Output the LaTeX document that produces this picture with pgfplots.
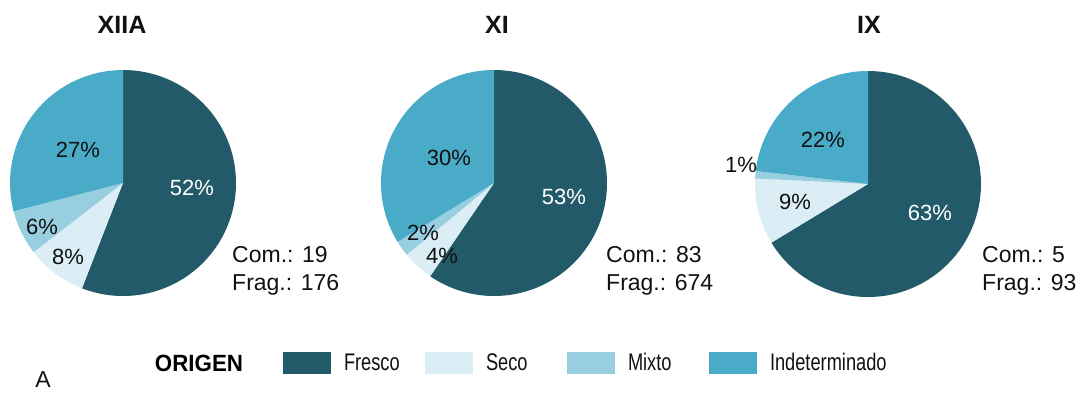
\documentclass[border=0pt]{standalone}
\usepackage{pgfplots}
\pgfplotsset{compat=1.18}
\usepackage{fontspec}
\setmainfont{Liberation Sans}
\newfontfamily\narrowfont[FakeStretch=0.76]{Liberation Sans}
\newfontfamily\origenfont[FakeStretch=0.95]{Liberation Sans}
\definecolor{cFresco}{HTML}{235A69}
\definecolor{cSeco}{HTML}{DCEEF5}
\definecolor{cMixto}{HTML}{97CEE0}
\definecolor{cIndet}{HTML}{49ABC7}
\definecolor{cText}{HTML}{111111}
\def\R{113pt}
% \pie{cx}{cy}{Fresco}{Seco}{Mixto}{Indeterminado}
\newcommand\pie[6]{%
  \pgfmathsetmacro\tot{#3+#4+#5+#6}%
  \pgfmathsetmacro\aB{90-360*(#3/\tot)}%
  \pgfmathsetmacro\aC{\aB-360*(#4/\tot)}%
  \pgfmathsetmacro\aD{\aC-360*(#5/\tot)}%
  \edef\doslices{%
    \noexpand\fill[cFresco] (axis cs:#1,#2) -- ++(90:\R) arc[start angle=90,end angle=\aB,radius=\R] -- cycle;
    \noexpand\fill[cSeco] (axis cs:#1,#2) -- ++(\aB:\R) arc[start angle=\aB,end angle=\aC,radius=\R] -- cycle;
    \noexpand\fill[cMixto] (axis cs:#1,#2) -- ++(\aC:\R) arc[start angle=\aC,end angle=\aD,radius=\R] -- cycle;
    \noexpand\fill[cIndet] (axis cs:#1,#2) -- ++(\aD:\R) arc[start angle=\aD,end angle=-270,radius=\R] -- cycle;
  }\doslices}
\newcommand\pct{\fontsize{22}{26}\selectfont}
\begin{document}
\begin{tikzpicture}
\begin{axis}[
  width=1081pt,height=392pt,scale only axis,
  xmin=0,xmax=1081,ymin=0,ymax=392,
  hide axis,clip=false,
  legend style={at={(axis cs:283,29)},anchor=west,draw=none,fill=none,
    legend columns=4,inner sep=0pt,outer sep=0pt,
    nodes={inner xsep=0pt,inner ysep=0pt,text width=81pt,align=left,
      font=\narrowfont\fontsize{24}{28}\selectfont,text=cText},
    /tikz/every odd column/.append style={column sep=13pt}},
  legend image code/.code={\fill[#1,draw=none] (0pt,-11pt) rectangle (48pt,11pt);},
]
\path (axis cs:0,0) rectangle (axis cs:1081,392);
\pie{123}{209}{52}{8}{6}{27}
\pie{494}{209}{53}{4}{2}{30}
\pie{868}{208}{63}{9}{1}{22}

\addlegendimage{draw=none,fill=cFresco}\addlegendentry{Fresco}
\addlegendimage{draw=none,fill=cSeco}\addlegendentry{Seco}
\addlegendimage{draw=none,fill=cMixto}\addlegendentry{Mixto}
\addlegendimage{draw=none,fill=cIndet}\addlegendentry{Indeterminado}

% titles
\node[font=\bfseries\fontsize{25}{30}\selectfont,text=cText] at (axis cs:122,367) {XIIA};
\node[font=\bfseries\fontsize{25}{30}\selectfont,text=cText] at (axis cs:497,367) {XI};
\node[font=\bfseries\fontsize{25}{30}\selectfont,text=cText] at (axis cs:869,367) {IX};
% percent labels
\node[font=\pct,text=white] at (axis cs:192,204) {52\%};
\node[font=\pct,text=cText] at (axis cs:78,242) {27\%};
\node[font=\pct,text=cText] at (axis cs:42,165) {6\%};
\node[font=\pct,text=cText] at (axis cs:68,135) {8\%};
\node[font=\pct,text=white] at (axis cs:564,195) {53\%};
\node[font=\pct,text=cText] at (axis cs:449,234) {30\%};
\node[font=\pct,text=cText] at (axis cs:423,159) {2\%};
\node[font=\pct,text=cText] at (axis cs:442,136) {4\%};
\node[font=\pct,text=white] at (axis cs:930,179) {63\%};
\node[font=\pct,text=cText] at (axis cs:823,252) {22\%};
\node[font=\pct,text=cText] at (axis cs:741,227) {1\%};
\node[font=\pct,text=cText] at (axis cs:795,190) {9\%};
% counts
\node[font=\fontsize{23}{28}\selectfont,text=cText,anchor=base west,inner sep=0pt] at (axis cs:232,130) {Com.: 19};
\node[font=\fontsize{23}{28}\selectfont,text=cText,anchor=base west,inner sep=0pt] at (axis cs:232,102) {Frag.: 176};
\node[font=\fontsize{23}{28}\selectfont,text=cText,anchor=base west,inner sep=0pt] at (axis cs:606,130) {Com.: 83};
\node[font=\fontsize{23}{28}\selectfont,text=cText,anchor=base west,inner sep=0pt] at (axis cs:606,102) {Frag.: 674};
\node[font=\fontsize{23}{28}\selectfont,text=cText,anchor=base west,inner sep=0pt] at (axis cs:982,130) {Com.: 5};
\node[font=\fontsize{23}{28}\selectfont,text=cText,anchor=base west,inner sep=0pt] at (axis cs:982,102) {Frag.: 93};
% legend title and panel letter
\node[font=\origenfont\bfseries\fontsize{23.5}{28}\selectfont,text=black] at (axis cs:199,29) {ORIGEN};
\node[font=\fontsize{23}{28}\selectfont,text=cText] at (axis cs:43,12) {A};
\end{axis}
\end{tikzpicture}
\end{document}
